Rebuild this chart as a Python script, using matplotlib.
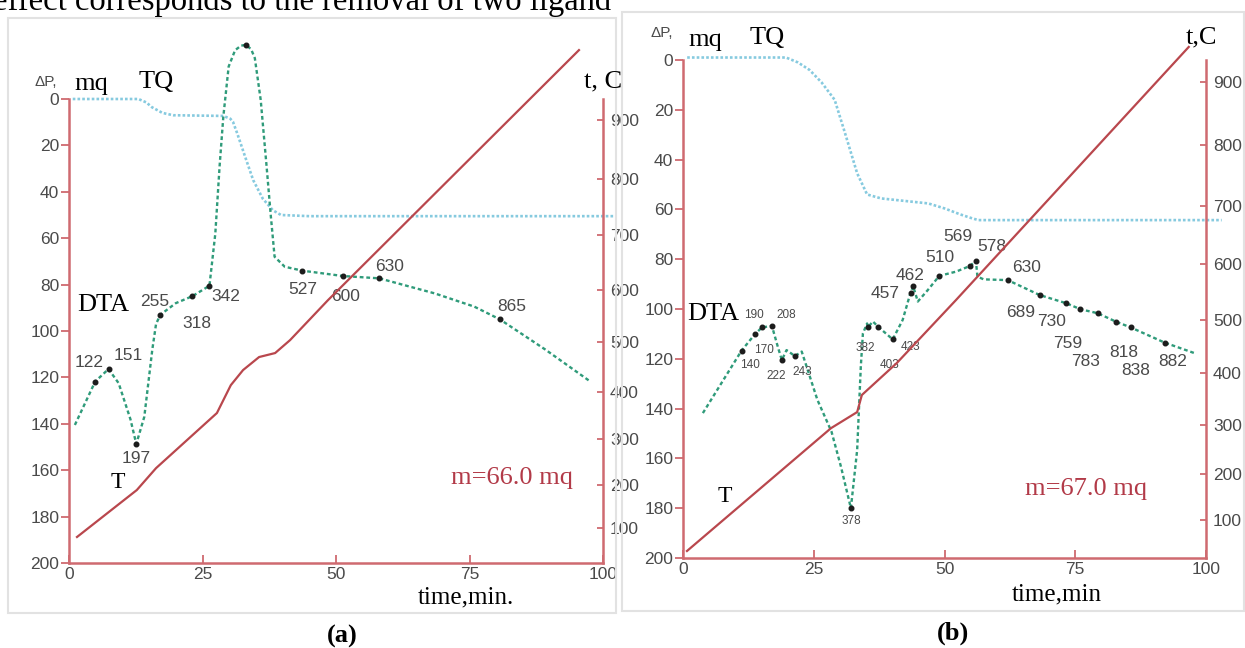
import numpy as np
import matplotlib
matplotlib.use("Agg")
from matplotlib import pyplot as plt
from matplotlib.patches import Rectangle

plt.rcParams['font.family'] = ['Liberation Sans', 'DejaVu Sans']

# ---- panel (a) data ----
a_dta_t = [1.1, 4.9, 7.4, 9.3, 11.5, 12.6, 14.1, 15.6, 16.3, 17.1, 20, 23.1, 26.3, 27.4, 28.2, 28.9,
           29.9, 31.1, 32.2, 33.1, 34.1, 34.8, 35.9, 37.0, 37.8, 38.1, 38.5, 40.4, 43.7, 51.3, 58.1,
           68.5, 75.9, 80.7, 89.2, 97.7]
a_dta_p = [140.5, 121.8, 116.4, 122.5, 138, 148.7, 137, 108, 97, 93, 88, 85, 80.5, 58, 29, 7.6,
           -14, -21, -23, -23.3, -21.5, -17.6, 0.4, 29, 50.6, 58, 68, 72.3, 74, 76.3, 77.3,
           83.8, 89.5, 95, 108, 121.9]
a_pk_t = [4.9, 7.4, 12.6, 17.1, 23.1, 26.3, 33.1, 43.7, 51.3, 58.1, 80.7]
a_pk_p = [121.8, 116.4, 148.7, 93, 85, 80.5, -23.3, 74, 76.3, 77.3, 95]
a_pk_lbl = ['122', '151', '197', '255', '318', '342', '438', '527', '600', '630', '865']
a_tq_t = [0.7, 13, 14.5, 15.5, 17.5, 19.5, 28.9, 30.2, 30.7, 31.5, 33, 34.5, 36.3, 38.2, 39.7, 45, 102]
a_tq_p = [0, 0, 1.5, 3.5, 6, 7, 7.3, 8.5, 9.8, 14.8, 25, 35, 43, 48, 50, 50.5, 50.5]
a_T_t = [1.5, 12.7, 16.3, 27.7, 30.3, 32.6, 35.6, 38.6, 41.4, 48.5, 95.5]
a_T_v = [78.6, 188, 237, 355.5, 413, 443.6, 469.6, 477.5, 503, 580, 1014.6]

# ---- panel (b) data ----
b_dta_t = [3.8, 11.2, 13.8, 15.1, 17, 18.2, 18.9, 19.8, 21.4, 22.7, 25.7, 28.4, 30.2, 32.1, 33.3,
           34.0, 34.4, 35.2, 35.4, 36.3, 37.3, 40.1, 42, 43.1, 43.5, 44, 44.9, 46.8, 49, 52.2,
           54.9, 56, 56.3, 57.5, 62.1, 68.2, 73.3, 76, 79.3, 82.8, 85.6, 92.1, 97.9]
b_dta_p = [141.8, 116.7, 110, 107.4, 106.8, 115.7, 120.5, 116.5, 118.9, 117.1, 136.5, 149.3, 163.3,
           180, 156.6, 123, 109.8, 105.8, 107.3, 105.0, 107.1, 112.2, 104.4, 96.4, 93.6, 90.8, 97,
           92.4, 86.7, 85, 82.7, 80.6, 87, 88.1, 88.4, 94.4, 97.7, 100.1, 101.7, 105.1, 107.4,
           113.5, 117.8]
b_pk_t = [11.2, 13.8, 15.1, 17, 18.9, 21.4, 32.1, 35.4, 37.3, 40.1, 43.5, 44, 49, 54.9, 56,
          62.1, 68.2, 73.3, 76, 79.3, 82.8, 85.6, 92.1]
b_pk_p = [116.7, 110, 107.4, 106.8, 120.5, 118.9, 180, 107.3, 107.1, 112.2, 93.6, 90.8, 86.7,
          82.7, 80.6, 88.4, 94.4, 97.7, 100.1, 101.7, 105.1, 107.4, 113.5]
b_pk_lbl = ['140', '170', '190', '208', '222', '243', '378', '382', '403', '423', '457', '462',
            '510', '569', '578', '630', '689', '730', '759', '783', '818', '838', '882']
b_tq_t = [0.8, 19.7, 22, 24.2, 26.5, 29, 31, 33.3, 35.2, 37.9, 46.9, 50, 53, 55.3, 56.5, 103]
b_tq_p = [-1, -1, 1, 4, 9, 16, 29.5, 45.5, 54, 55.6, 57.6, 59.6, 62, 63.6, 64.3, 64.3]
b_T_t = [0.76, 28.3, 33.3, 34.2, 40.9, 52.2, 96.7]
b_T_v = [30.3, 293, 325, 358.5, 420, 536, 954]

p_ticks = list(range(0, 201, 20))
temp_ticks = list(range(100, 901, 100))
time_ticks = [0, 25, 50, 75, 100]

# label offsets (pixels) for peak labels
a_off = [(-6, 19), (20, 14), (0, -15), (-6, 13), (5, -27), (16, -11), (-2, 13), (0, -19),
         (3, -20), (10, 12), (12, 13)]
b_off = [(8, -14), (9, -16), (-8, 12), (14, 11), (-6, -16), (7, -16), (0, -13), (-3, -21),
         (11, -38), (18, -8), (-25, 0), (-3, 11), (1, 18), (-12, 29), (16, 14), (19, 13),
         (-19, -17), (-15, -18), (-13, -34), (-12, -48), (8, -31), (5, -43), (8, -19)]
b_small = 10  # first ten labels in (b) are small

W, H = 1245, 648
SP_C = '#cf6a70'
T_C = '#b9474d'
DTA_C = '#2f9b7a'
TQ_C = '#86cadf'
TXT_C = '#4a4a4a'
SERIF = 'Liberation Serif'


def fwd(v):
    v = np.asarray(v, dtype=float)
    return v + 2.75e-4 * v ** 2


def inv(u):
    u = np.asarray(u, dtype=float)
    return (np.sqrt(np.clip(1 + 1.1e-3 * u, 1e-9, None)) - 1) / 5.5e-4


def box(l, t, r, b):
    return [l / W, 1 - b / H, (r - l) / W, (b - t) / H]


def fx(x, y):
    return x / W, 1 - y / H


fig = plt.figure(figsize=(12.45, 6.48), dpi=100)

# light frames of the scanned panels
for l, t, r, b in [(8, 18, 616, 613), (622, 12, 1244, 611)]:
    fig.patches.append(Rectangle((l / W, 1 - b / H), (r - l) / W, (b - t) / H,
                                 transform=fig.transFigure, fill=False,
                                 edgecolor='#e2e2e2', lw=1.5))


def panel(rect, dta_t, dta_p, pk_t, pk_p, pk_lbl, offs, sizes, tq_t, tq_p, T_t, T_v, tlim):
    ax = fig.add_axes(rect)
    ax.set_xlim(0, 100)
    ax.set_ylim(200, 0)
    ax.plot(tq_t, tq_p, color=TQ_C, ls=(0, (1, 0.8)), lw=1.9, clip_on=False)
    ax.plot(dta_t, dta_p, color=DTA_C, ls=(0, (1.6, 1.2)), lw=1.7, clip_on=False)
    ax.plot(pk_t, pk_p, 'o', color='#1c1c1c', ms=3.3, clip_on=False)
    for t, p, lbl, (dx, dy), fs in zip(pk_t, pk_p, pk_lbl, offs, sizes):
        ax.annotate(lbl, (t, p), xytext=(dx, dy), textcoords='offset pixels',
                    ha='center', va='center', fontsize=fs, color=TXT_C)
    for s in ['top', 'right']:
        ax.spines[s].set_visible(False)
    for s in ['left', 'bottom']:
        ax.spines[s].set_color(SP_C)
        ax.spines[s].set_linewidth(1.8)
    ax.set_yticks(p_ticks)
    ax.set_xticks(time_ticks)
    ax.tick_params(axis='y', direction='out', length=6, width=1.3, color=SP_C,
                   labelsize=12.5, labelcolor=TXT_C, pad=1)
    ax.tick_params(axis='x', direction='in', length=6, width=1.3, color=SP_C,
                   labelsize=12.5, labelcolor=TXT_C, pad=3)

    ax2 = ax.twinx()
    ax2.set_yscale('function', functions=(fwd, inv))
    ax2.set_ylim(*tlim)
    ax2.plot(T_t, T_v, color=T_C, lw=1.6, clip_on=False)
    for s in ['top', 'left', 'bottom']:
        ax2.spines[s].set_visible(False)
    ax2.spines['right'].set_color(SP_C)
    ax2.spines['right'].set_linewidth(1.8)
    ax2.set_yticks(temp_ticks)
    ax2.yaxis.set_minor_locator(matplotlib.ticker.NullLocator())
    ax2.tick_params(axis='y', direction='in', length=4, width=1.3, color=SP_C,
                    labelsize=12.5, labelcolor=TXT_C, pad=5)
    return ax


panel(box(69, 99, 603, 563), a_dta_t, a_dta_p, a_pk_t, a_pk_p, a_pk_lbl, a_off,
      [12.5] * len(a_pk_lbl), a_tq_t, a_tq_p, a_T_t, a_T_v, (15.2, 935))
panel(box(683, 60, 1206, 558), b_dta_t, b_dta_p, b_pk_t, b_pk_p, b_pk_lbl, b_off,
      [8.5] * b_small + [12.5] * (len(b_pk_lbl) - b_small),
      b_tq_t, b_tq_p, b_T_t, b_T_v, (14.2, 934))

# page text above the figure, cropped by the top edge as in the scan
fig.text(-0.006, 1 - 10 / H, 'effect corresponds to the removal of two ligand',
         family=SERIF, fontsize=23.5, va='baseline', ha='left')

for x, y, s, fs, kw in [
        (46, 82, 'ΔP,', 11, dict(color=TXT_C)),
        (91, 84, 'mq', 19, dict(family=SERIF)),
        (156, 82, 'TQ', 19, dict(family=SERIF)),
        (603, 81, 't, C', 19, dict(family=SERIF)),
        (103, 305, 'DTA', 19, dict(family=SERIF)),
        (118, 482, 'T', 17, dict(family=SERIF)),
        (512, 478, 'm=66.0 mq', 19, dict(family=SERIF, color='#b23a48')),
        (466, 597, 'time,min.', 18, dict(family=SERIF)),
        (342, 636, '(a)', 19, dict(family=SERIF, weight='bold')),
        (662, 33, 'ΔP,', 11, dict(color=TXT_C)),
        (705, 40, 'mq', 19, dict(family=SERIF)),
        (767, 38, 'TQ', 19, dict(family=SERIF)),
        (1201, 37, 't,C', 19, dict(family=SERIF)),
        (713, 314, 'DTA', 19, dict(family=SERIF)),
        (725, 496, 'T', 17, dict(family=SERIF)),
        (1086, 489, 'm=67.0 mq', 19, dict(family=SERIF, color='#b23a48')),
        (1057, 594, 'time,min', 18, dict(family=SERIF)),
        (953, 633, '(b)', 19, dict(family=SERIF, weight='bold'))]:
    fig.text(*fx(x, y), s, fontsize=fs, ha='center', va='center', **kw)

fig.savefig('out.png', dpi=100)
